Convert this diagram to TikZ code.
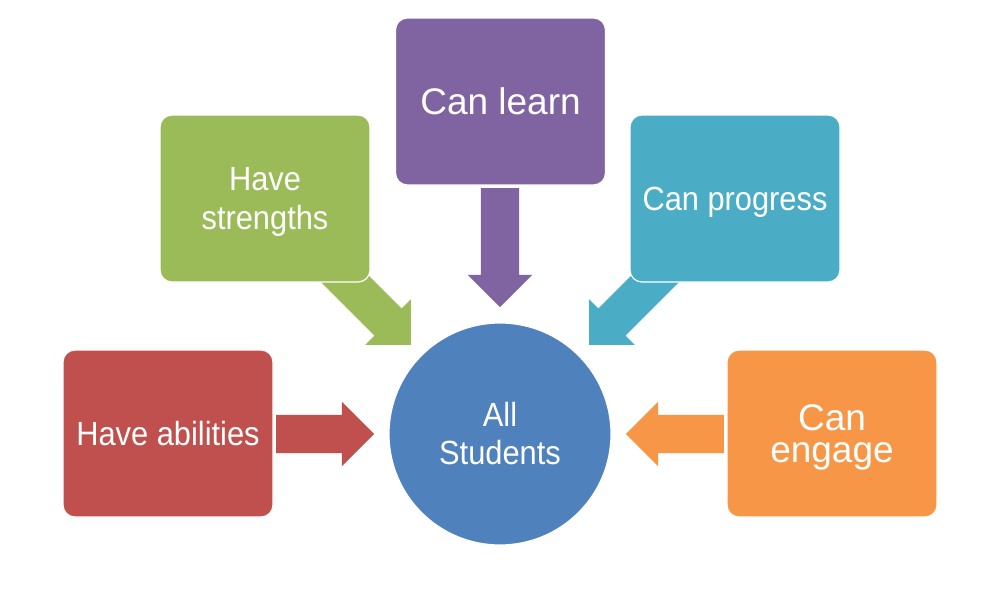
\documentclass[tikz,border=0pt]{standalone}
\usepackage{fontspec}
\setmainfont{Liberation Sans}
\newfontfamily\condfont[FakeStretch=0.92]{Liberation Sans}
\usetikzlibrary{shapes.arrows,calc,backgrounds}
\definecolor{cpurple}{HTML}{8064A2}
\definecolor{cgreen}{HTML}{9BBB59}
\definecolor{cteal}{HTML}{4BACC6}
\definecolor{cred}{HTML}{C0504D}
\definecolor{corange}{HTML}{F79646}
\definecolor{cblue}{HTML}{4F81BD}
\newcommand\ppstrut{\rule[-0.212em]{0pt}{1.117em}}
\newcommand\tightls{\lineskiplimit-100pt\relax}
\newcommand\bigfnt{\fontsize{37}{32}\selectfont\tightls}
\newcommand\smallfnt{\condfont\fontsize{33.5}{38.3}\selectfont\tightls}
\begin{document}
\begin{tikzpicture}[x=1pt,y=-1pt,
  box/.style={rectangle, rounded corners=12pt, minimum width=210pt, minimum height=167pt,
    draw=white, line width=1.2pt, text=white, align=center, inner sep=0pt},
  bigtext/.style={font=\bigfnt},
  smalltext/.style={font=\smallfnt},
  blockarrow/.style={single arrow, single arrow tip angle=90, single arrow head extend=13pt,
    inner sep=19pt, minimum width=64pt, anchor=tip, draw=none},
]
\useasboundingbox (0,0) rectangle (999,605);

\node[box, fill=cpurple, bigtext] (learn) at (500.5,101.5) {\raisebox{-2pt}{\ppstrut Can learn}};
\node[box, fill=cgreen, smalltext] (strengths) at (265,198.5) {\ppstrut Have\\\ppstrut strengths};
\node[box, fill=cteal, smalltext] (progress) at (735,198.5) {\raisebox{-3pt}{\ppstrut Can progress}};
\node[box, fill=cred, smalltext] (abilities) at (168,433.5) {\raisebox{-1.5pt}{\ppstrut Have abilities}};
\node[box, fill=corange, bigtext] (engage) at (832,433.5) {\ppstrut Can\\\ppstrut engage};
\node[circle, fill=cblue, draw=white, line width=1.2pt, minimum size=222pt, inner sep=0pt,
  smalltext, text=white, align=center] (students) at (500,434) {\ppstrut All\\\ppstrut Students};

\begin{pgfonlayer}{background}
  \fill[white] (0,0) rectangle (999,605);
  \node[blockarrow, fill=cred, minimum height=98pt] (arrabilities)
    at ($(students.west)+(-14,0)$) {};
  \node[blockarrow, fill=corange, minimum height=98pt, rotate=180] (arrengage)
    at ($(students.east)+(14,0)$) {};
  \node[blockarrow, fill=cpurple, minimum height=119pt, rotate=-90] (arrlearn)
    at ($(students.north)+(0,-15)$) {};
  \node[blockarrow, fill=cgreen, minimum height=120pt, rotate=-45] (arrstrengths)
    at ($(students.north west)+(-10,-10)$) {};
  \node[blockarrow, fill=cteal, minimum height=120pt, rotate=-135] (arrprogress)
    at ($(students.north east)+(10,-10)$) {};
\end{pgfonlayer}
\end{tikzpicture}
\end{document}
